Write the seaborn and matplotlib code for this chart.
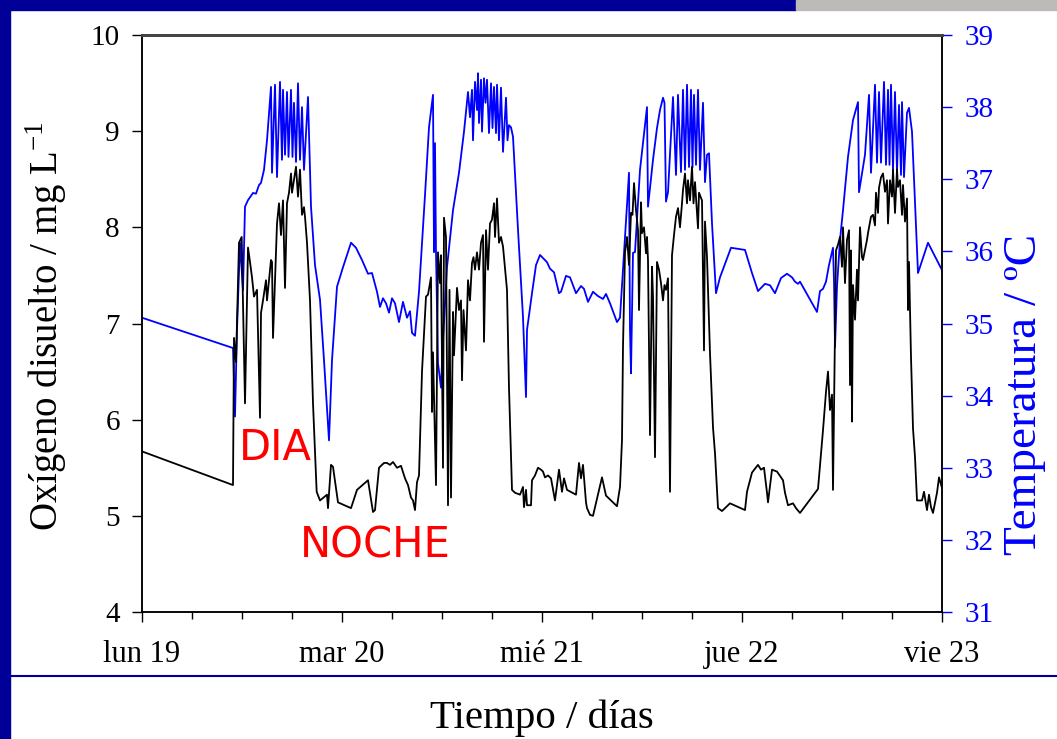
import matplotlib
matplotlib.use("Agg")
import matplotlib.pyplot as plt
from matplotlib.patches import Rectangle
from matplotlib.lines import Line2D
from matplotlib.ticker import MultipleLocator
import seaborn as sns
import pandas as pd

sns.set_style("ticks")
plt.rcParams['font.family'] = ['Liberation Serif', 'DejaVu Serif']
plt.rcParams.update({"text.color": "black", "axes.labelcolor": "black",
                     "xtick.color": "black", "ytick.color": "black"})

# ---------------- data (hours from lun 19 00:00) ----------------
do_hours = [0, 10.92, 11.04, 11.28, 11.64, 11.96, 12.36, 12.72, 12.96, 13.2, 13.44, 13.8, 14.16, 14.28,
            14.52, 14.88, 15.0, 15.48, 15.6, 15.72, 16.2, 16.44, 16.68, 16.92, 17.16, 17.4, 17.64, 17.88,
            18.0, 18.48, 18.72, 18.96, 19.2, 19.44, 19.56, 19.8, 20.16, 20.52, 20.96, 21.36, 22.2, 22.32,
            22.68, 22.92, 23.52, 25.08, 25.8, 27.12, 27.72, 27.96, 28.44, 29.04, 29.4, 29.76, 30.12, 30.6,
            31.08, 31.56, 31.92, 32.28, 32.52, 32.76, 33.0, 33.24, 33.6, 34.08, 34.32, 34.68, 34.8, 34.92,
            35.28, 35.52, 35.76, 35.88, 36.12, 36.24, 36.48, 36.72, 36.9, 37.08, 37.32, 37.44, 37.8, 38.04,
            38.28, 38.4, 38.58, 38.88, 39.12, 39.36, 39.6, 39.78, 39.96, 40.2, 40.44, 40.68, 40.92, 41.04,
            41.28, 41.52, 41.76, 42.0, 42.24, 42.36, 42.6, 42.84, 43.08, 43.32, 43.8, 44.04, 44.4, 44.76,
            45.36, 45.72, 45.84, 46.08, 46.2, 46.68, 46.8, 47.16, 47.52, 47.88, 48.12, 48.36, 48.72, 49.08,
            49.56, 50.04, 50.4, 50.64, 51.0, 52.08, 52.44, 52.68, 52.92, 53.28, 53.4, 53.76, 54.12, 55.2,
            55.68, 57.0, 57.36, 57.6, 57.72, 57.96, 58.2, 58.44, 58.68, 58.86, 59.04, 59.28, 59.52, 59.64,
            59.88, 60.0, 60.24, 60.48, 60.6, 60.72, 60.96, 61.2, 61.32, 61.56, 61.8, 62.04, 62.28, 62.52,
            62.7, 62.88, 63.12, 63.36, 63.6, 63.84, 64.08, 64.32, 64.56, 64.8, 64.92, 65.16, 65.4, 65.52,
            65.76, 66.0, 66.18, 66.36, 66.72, 66.84, 67.2, 67.44, 67.56, 67.8, 68.16, 68.52, 68.76, 69.12,
            69.6, 70.56, 72.36, 72.6, 73.2, 73.92, 74.28, 74.64, 75.0, 75.12, 75.6, 76.2, 76.92, 77.16,
            77.52, 78.12, 78.48, 78.96, 81.12, 81.72, 82.08, 82.32, 82.56, 82.8, 82.92, 83.28, 83.52, 83.76,
            84.0, 84.12, 84.36, 84.6, 84.84, 84.96, 85.08, 85.2, 85.32, 85.56, 85.8, 85.92, 86.16, 86.4,
            86.52, 87.0, 87.12, 87.48, 87.72, 87.96, 88.08, 88.32, 88.44, 88.68, 88.92, 89.16, 89.4, 89.52,
            89.76, 90.0, 90.12, 90.36, 90.6, 90.72, 90.96, 91.2, 91.32, 91.56, 91.8, 91.92, 92.04, 92.28,
            92.52, 92.76, 93.0, 93.6, 93.84, 94.2, 94.44, 94.68, 94.92, 95.4, 95.64, 96.0]
do_values = [5.67, 5.32, 6.85, 6.60, 7.84, 7.90, 6.17, 7.79, 7.64, 7.48, 7.28, 7.35, 6.02, 7.11,
             7.24, 7.45, 7.24, 7.66, 7.64, 6.85, 8.04, 8.25, 7.92, 8.28, 7.37, 8.25, 8.36, 8.56,
             8.36, 8.63, 8.32, 8.60, 8.13, 8.21, 8.11, 7.84, 7.24, 6.17, 5.25, 5.16, 5.22, 5.08,
             5.53, 5.51, 5.14, 5.08, 5.27, 5.37, 5.04, 5.06, 5.50, 5.55, 5.55, 5.53, 5.56, 5.50,
             5.52, 5.39, 5.32, 5.19, 5.16, 5.06, 5.35, 5.42, 6.50, 7.28, 7.30, 7.48, 6.08, 6.70,
             5.32, 7.74, 7.42, 7.71, 5.50, 8.10, 7.90, 5.11, 7.35, 5.19, 7.12, 6.67, 7.37, 7.14,
             7.24, 6.41, 7.14, 6.72, 7.45, 7.24, 7.63, 7.69, 7.56, 7.74, 7.56, 7.84, 7.92, 6.81,
             7.97, 7.56, 8.04, 8.08, 8.25, 7.90, 8.30, 7.84, 7.90, 7.80, 7.35, 6.33, 5.27, 5.24,
             5.22, 5.30, 5.09, 5.27, 5.11, 5.11, 5.37, 5.42, 5.50, 5.48, 5.46, 5.40, 5.42, 5.39,
             5.16, 5.48, 5.25, 5.39, 5.27, 5.22, 5.55, 5.39, 5.53, 5.14, 5.08, 5.01, 5.00, 5.40,
             5.21, 5.10, 5.30, 5.79, 6.76, 7.74, 7.90, 7.61, 8.15, 8.13, 8.46, 8.18, 7.97, 7.14,
             8.26, 7.94, 8.00, 7.73, 7.90, 7.66, 5.84, 7.59, 7.28, 5.61, 7.64, 7.56, 7.42, 7.24,
             7.40, 7.35, 7.47, 5.25, 7.71, 7.92, 8.11, 8.20, 8.00, 8.25, 8.39, 8.56, 8.25, 8.49,
             8.28, 8.63, 8.25, 8.47, 7.99, 8.36, 8.28, 6.72, 8.06, 7.69, 6.69, 5.92, 5.65, 5.08,
             5.05, 5.13, 5.06, 5.25, 5.45, 5.53, 5.48, 5.50, 5.24, 5.14, 5.48, 5.46, 5.37, 5.24,
             5.11, 5.13, 5.08, 5.03, 5.28, 5.89, 6.29, 6.50, 6.10, 6.26, 5.27, 7.76, 7.82, 7.90,
             7.59, 8.00, 7.42, 7.87, 7.97, 6.36, 7.76, 5.98, 7.40, 7.04, 7.56, 7.24, 8.00, 7.69,
             7.66, 7.87, 7.94, 8.11, 8.13, 8.02, 8.36, 8.15, 8.41, 8.52, 8.56, 8.37, 8.49, 8.04,
             8.49, 8.32, 8.60, 8.15, 8.60, 8.42, 8.49, 8.13, 8.44, 8.06, 8.30, 7.14, 7.64, 6.65,
             5.91, 5.61, 5.16, 5.16, 5.25, 5.06, 5.22, 5.09, 5.03, 5.24, 5.40, 5.29]

temp_hours = [0, 10.92, 11.16, 11.4, 11.76, 12.12, 12.36, 12.72, 13.32, 13.68, 14.04, 14.28, 14.64, 15.0,
              15.48, 15.6, 15.96, 16.2, 16.56, 16.8, 16.92, 17.16, 17.4, 17.58, 17.88, 18.06, 18.24, 18.48,
              18.72, 18.96, 19.2, 19.44, 19.92, 20.28, 20.76, 21.36, 21.84, 22.44, 22.8, 23.4, 24.12, 25.08,
              25.68, 26.4, 27.12, 27.6, 28.2, 28.56, 28.92, 29.28, 29.64, 30.0, 30.36, 30.84, 31.32, 31.56,
              31.8, 32.16, 32.4, 32.76, 33.24, 33.96, 34.44, 34.92, 35.04, 35.16, 35.28, 35.52, 35.88, 36.12,
              36.6, 37.32, 38.04, 38.64, 39.12, 39.36, 39.6, 39.72, 39.96, 40.2, 40.32, 40.44, 40.68, 40.8,
              41.04, 41.22, 41.4, 41.64, 41.88, 42.06, 42.24, 42.48, 42.6, 42.84, 43.08, 43.32, 43.68, 43.86,
              44.04, 44.28, 44.52, 45.12, 45.72, 46.08, 46.2, 46.8, 47.28, 47.76, 48.6, 48.96, 49.44, 50.04,
              50.28, 50.88, 51.36, 52.08, 52.68, 53.04, 53.52, 54.12, 54.72, 55.32, 55.68, 56.16, 57.0, 57.36,
              57.96, 58.44, 58.56, 58.68, 58.92, 59.16, 59.76, 60.6, 60.72, 61.32, 61.8, 62.16, 62.52, 62.7,
              62.88, 63.12, 63.72, 64.08, 64.32, 64.68, 64.92, 65.16, 65.4, 65.64, 65.88, 66.06, 66.24, 66.48,
              66.72, 66.96, 67.32, 67.56, 67.8, 68.04, 68.4, 68.88, 69.36, 70.68, 72.36, 73.2, 73.92, 74.76,
              75.36, 75.96, 76.68, 77.4, 78.0, 78.36, 78.72, 78.96, 81.0, 81.36, 81.72, 82.08, 82.44, 82.92,
              83.04, 83.16, 83.4, 83.76, 84.12, 84.72, 85.32, 85.92, 86.04, 86.76, 87.24, 87.48, 87.96, 88.2,
              88.44, 88.68, 89.04, 89.28, 89.52, 89.7, 89.88, 90.12, 90.36, 90.6, 90.84, 91.08, 91.2, 91.44,
              91.8, 92.04, 92.4, 93.12, 94.32, 96.0]
temp_values = [35.08, 34.66, 33.71, 34.91, 36.12, 35.46, 36.62, 36.71, 36.81, 36.80, 36.92, 36.95, 37.13, 37.54,
               38.28, 37.09, 38.31, 37.03, 38.35, 37.27, 38.24, 37.34, 38.21, 37.31, 38.24, 37.31, 38.06, 37.24,
               38.33, 37.27, 38.00, 37.13, 38.14, 36.62, 35.81, 35.33, 34.49, 33.38, 34.49, 35.51, 35.78, 36.12,
               36.05, 35.88, 35.69, 35.70, 35.44, 35.23, 35.35, 35.28, 35.15, 35.35, 35.28, 35.02, 35.30, 35.19,
               35.08, 35.17, 34.87, 34.83, 35.44, 36.78, 37.72, 38.17, 35.99, 37.50, 35.98, 34.45, 34.11, 34.77,
               35.78, 36.57, 37.09, 37.66, 38.21, 37.86, 38.24, 37.54, 38.35, 37.96, 38.47, 37.78, 38.38, 37.66,
               38.40, 38.06, 38.38, 37.64, 38.33, 37.71, 38.28, 37.64, 38.31, 37.54, 38.27, 37.38, 38.13, 37.54,
               37.75, 37.72, 37.59, 36.30, 35.09, 33.98, 34.91, 35.42, 35.81, 35.95, 35.85, 35.76, 35.71, 35.42,
               35.44, 35.66, 35.64, 35.42, 35.52, 35.48, 35.30, 35.44, 35.38, 35.34, 35.41, 35.28, 35.02, 35.08,
               36.20, 37.09, 34.91, 34.31, 35.98, 35.99, 37.13, 38.00, 36.62, 37.27, 37.71, 37.96, 38.13, 38.06,
               36.69, 36.82, 38.14, 37.06, 38.17, 37.10, 38.24, 37.13, 38.31, 37.17, 38.24, 37.16, 38.17, 37.20,
               38.24, 37.13, 38.06, 36.96, 37.34, 37.36, 36.39, 35.42, 35.64, 36.05, 36.02, 35.70, 35.45, 35.55,
               35.53, 35.42, 35.63, 35.69, 35.64, 35.58, 35.55, 35.58, 35.16, 35.45, 35.48, 35.58, 35.81, 36.05,
               35.60, 34.67, 35.51, 36.16, 36.57, 37.31, 37.82, 38.07, 36.82, 37.34, 38.17, 37.09, 38.31, 37.23,
               38.21, 37.23, 38.35, 37.20, 38.24, 37.20, 38.31, 37.13, 38.21, 37.10, 38.03, 37.06, 38.07, 37.03,
               37.92, 37.99, 37.66, 35.70, 36.12, 35.74]

day_ticks = [0, 24, 48, 72, 96]
day_labels = ["lun 19", "mar 20", "mié 21", "jue 22", "vie 23"]
left_ticks = [4, 5, 6, 7, 8, 9, 10]
right_ticks = [31, 32, 33, 34, 35, 36, 37, 38, 39]

do_df = pd.DataFrame({"hora": do_hours, "oxigeno": do_values})
temp_df = pd.DataFrame({"hora": temp_hours, "temp": temp_values})

NAVY = "#000099"
BLUE = "#0000ff"

fig = plt.figure(figsize=(10.57, 7.39), dpi=100)
fig.patch.set_facecolor("white")

# slide decorations
fig.patches.append(Rectangle((0, 0), 10 / 1057, 1, transform=fig.transFigure, color=NAVY, zorder=0))
fig.patches.append(Rectangle((0, 1 - 10 / 739), 796 / 1057, 10 / 739, transform=fig.transFigure, color=NAVY, zorder=0))
fig.patches.append(Rectangle((796 / 1057, 1 - 10 / 739), 261 / 1057, 10 / 739, transform=fig.transFigure,
                             color="#bdbbb8", zorder=0))
fig.lines.append(Line2D([10 / 1057, 1], [1 - 676 / 739, 1 - 676 / 739], transform=fig.transFigure,
                        color=NAVY, lw=1.5))

ax = fig.add_axes([142 / 1057, 1 - 612 / 739, 800 / 1057, 577 / 739])
ax2 = ax.twinx()

sns.lineplot(data=temp_df, x="hora", y="temp", ax=ax2, color=BLUE, lw=1.3, estimator=None, sort=False)
sns.lineplot(data=do_df, x="hora", y="oxigeno", ax=ax, color="black", lw=1.3, estimator=None, sort=False)
ax.set_zorder(ax2.get_zorder() + 1)
ax.patch.set_visible(False)

ax.set_xlim(0, 96)
ax.set_ylim(4, 10)
ax2.set_ylim(31, 39)
ax.set_xticks(day_ticks)
ax.set_xticklabels(day_labels)
ax.xaxis.set_minor_locator(MultipleLocator(6))
ax.set_yticks(left_ticks)
ax2.set_yticks(right_ticks)

ax.set_xlabel("")
ax.set_ylabel("")
ax2.set_ylabel("")

ax.tick_params(axis="x", which="major", direction="out", length=7, width=1, labelsize=22, pad=13,
               colors="black")
ax.tick_params(axis="x", which="minor", direction="out", length=5, width=1, colors="black")
ax.tick_params(axis="y", direction="out", length=7, width=1, labelsize=21, pad=9, colors="black")
ax2.tick_params(axis="y", direction="out", length=7, width=1, labelsize=21, pad=9, colors=BLUE)

for a in (ax, ax2):
    for s in a.spines.values():
        s.set_color("black")
        s.set_linewidth(1.1)
        s.set_visible(True)
    a.spines["top"].set_color("#444444")
    a.spines["top"].set_linewidth(2)

fig.text(46 / 1057, 1 - 326 / 739, r"Oxígeno disuelto / mg L$^{\mathregular{-1}}$", rotation=90,
         ha="center", va="center", fontsize=28, color="black")
fig.text(1003 / 1057, 1 - 394 / 739, "Temperatura / ºC", rotation=90, ha="left", va="center",
         fontsize=34, color=BLUE)
fig.text(542 / 1057, 1 - 718 / 739, "Tiempo / días", ha="center", va="center", fontsize=29.5,
         color="black")

fig.text(275 / 1057, 1 - 448 / 739, "DIA", ha="center", va="center", fontsize=30, color="#ff0000",
         family=["DejaVu Sans"])
fig.text(375 / 1057, 1 - 545 / 739, "NOCHE", ha="center", va="center", fontsize=30, color="#ff0000",
         family=["DejaVu Sans"])

fig.savefig("out.png", dpi=100)
